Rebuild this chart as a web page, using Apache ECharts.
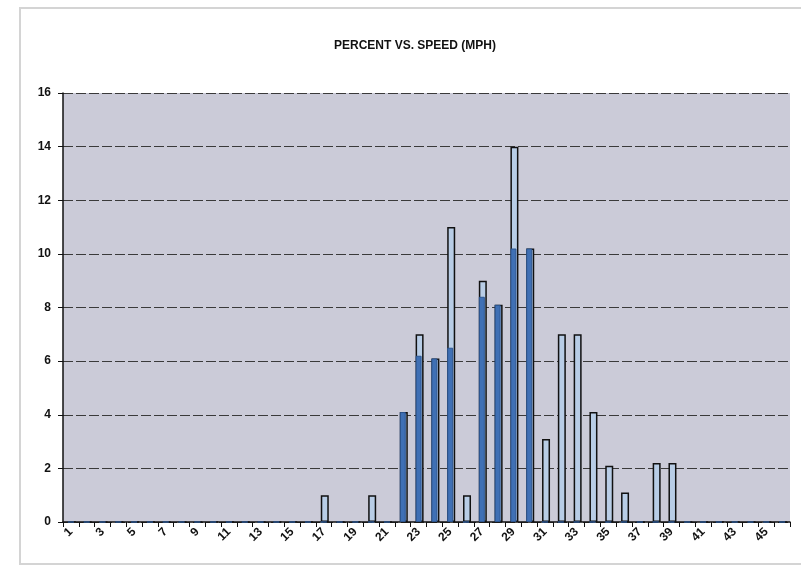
<!DOCTYPE html>
<html>
<head>
<meta charset="utf-8">
<script src="https://cdn.jsdelivr.net/npm/echarts@6/dist/echarts.min.js"></script>
<style>html,body{margin:0;padding:0;background:#fff;}#c{width:801px;height:572px;}</style>
</head>
<body>
<div id="c"></div>
<script>
var speeds = ['1','2','3','4','5','6','7','8','9','10','11','12','13','14','15','16','17','18','19','20','21','22','23','24','25','26','27','28','29','30','31','32','33','34','35','36','37','38','39','40','41','42','43','44','45','46'];
// full bar heights (percent), outlined bars
var percentTotal = [0,0,0,0,0,0,0,0,0,0,0,0,0,0,0,0,1,0,0,1,0,4.1,7,6.1,11,1,9,8.1,14,10.2,3.1,7,7,4.1,2.1,1.1,0,2.2,2.2,0,0,0,0,0,0,0];
// dark blue filled portion seen in the chart
var percentBlue = [0,0,0,0,0,0,0,0,0,0,0,0,0,0,0,0,0,0,0,0,0,4.1,6.2,6.1,6.5,0,8.4,8.1,10.2,10.2,0,0,0,0,0,0,0,0,0,0,0,0,0,0,0,0];
var yTicks = [0,2,4,6,8,10,12,14,16];

var chart = echarts.init(document.getElementById('c'));
var font = 'Liberation Sans, Arial, sans-serif';
chart.setOption({
  animation: false,
  backgroundColor: '#ffffff',
  title: {
    text: 'PERCENT VS. SPEED (MPH)',
    left: 410, top: 35, textAlign: 'center',
    textStyle: {fontFamily: font, fontSize: 12, fontWeight: 'bold', color: '#111'}
  },
  graphic: [{
    type: 'rect', shape: {x: 20, y: 8, width: 790, height: 556},
    style: {fill: 'none', stroke: '#d4d4d4', lineWidth: 2}, z: -1
  }],
  grid: {left: 63, right: 11, top: 93, bottom: 50, show: true, backgroundColor: '#cbcbd8', borderWidth: 0},
  xAxis: {
    type: 'category', data: speeds, boundaryGap: true,
    axisLine: {lineStyle: {color: '#111', width: 1.5}},
    axisTick: {show: true, interval: 0, length: 5, lineStyle: {color: '#111'}},
    axisLabel: {interval: 1, rotate: 45, fontFamily: font, fontSize: 12, fontWeight: 'bold', color: '#111', margin: 8},
    splitLine: {show: false}
  },
  yAxis: {
    type: 'value', min: yTicks[0], max: yTicks[yTicks.length-1], interval: 2,
    axisLine: {show: true, lineStyle: {color: '#111', width: 1.5}},
    axisTick: {show: true, length: 5, lineStyle: {color: '#111'}},
    axisLabel: {fontFamily: font, fontSize: 12, fontWeight: 'bold', color: '#111', margin: 12},
    splitLine: {show: true, lineStyle: {color: '#3a3a3a', width: 1, type: [10, 3]}}
  },
  series: [
    {
      type: 'bar', data: percentTotal, barWidth: 8, barGap: '-100%',
      itemStyle: {color: '#b8cde6', borderColor: '#111', borderWidth: 1.5},
      z: 2
    },
    {
      type: 'bar', data: percentBlue, barWidth: 6, barGap: '-100%',
      itemStyle: {color: '#3f70b5', borderColor: '#2d5690', borderWidth: 1},
      z: 3
    }
  ]
});
</script>
</body>
</html>
